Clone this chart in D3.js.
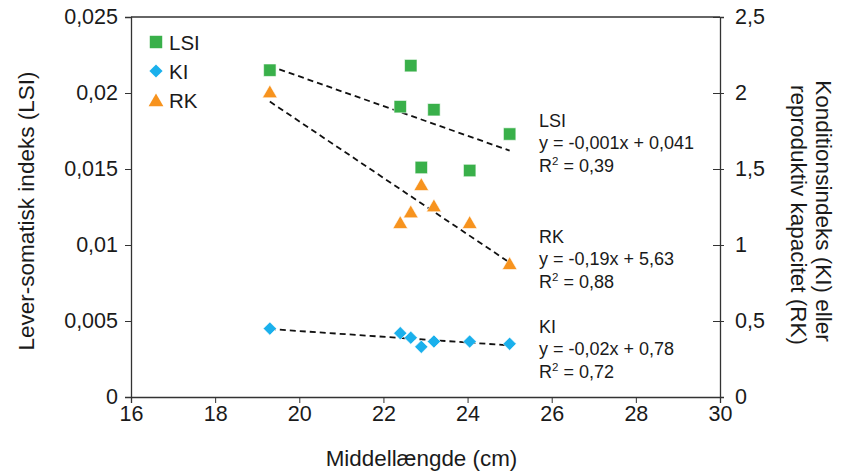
<html>
<head>
<meta charset="utf-8">
<script src="https://d3js.org/d3.v7.min.js"></script>
</head>
<body style="margin:0">
<svg id="chart" width="844" height="473"></svg>
<style>
  text { font-family: "Liberation Sans", Arial, sans-serif; fill: #1a1a1a; }
</style>
<script>
// middellængde (cm) per prøve
const lengths = [19.3, 22.4, 22.65, 22.9, 23.2, 24.05, 25.0];
const lsi = [0.0215, 0.0191, 0.0218, 0.0151, 0.0189, 0.0149, 0.0173];
const ki  = [0.45, 0.42, 0.39, 0.33, 0.365, 0.365, 0.35];
const rk  = [2.01, 1.15, 1.22, 1.40, 1.26, 1.15, 0.88];

const xTicks = [16, 18, 20, 22, 24, 26, 28, 30];
const leftTicks = [0, 0.005, 0.01, 0.015, 0.02, 0.025];
const rightTicks = [0, 0.5, 1, 1.5, 2, 2.5];

const seriesNames = ['LSI', 'KI', 'RK'];
const equations = [
  ['LSI', 'y = -0,001x + 0,041', '0,39'],
  ['RK', 'y = -0,19x + 5,63', '0,88'],
  ['KI', 'y = -0,02x + 0,78', '0,72']
];

const svg = d3.select('#chart');
const margin = {top: 17, right: 124, bottom: 76, left: 131};
const W = 844, H = 473;

const x = d3.scaleLinear().domain([16, 30]).range([margin.left, W - margin.right]);
const yL = d3.scaleLinear().domain([0, 0.025]).range([H - margin.bottom, margin.top]);
const yR = d3.scaleLinear().domain([0, 2.5]).range([H - margin.bottom, margin.top]);

const comma = d => String(d).replace('.', ',');

// frame
svg.append('line').attr('x1', x(16)).attr('x2', x(30)).attr('y1', yL(0.025)).attr('y2', yL(0.025))
   .attr('stroke', '#333').attr('stroke-width', 1.3);

const gx = svg.append('g').attr('transform', `translate(0,${yL(0)})`)
  .call(d3.axisBottom(x).tickValues(xTicks).tickSize(6).tickPadding(3).tickFormat(comma));
const gl = svg.append('g').attr('transform', `translate(${x(16)},0)`)
  .call(d3.axisLeft(yL).tickValues(leftTicks).tickSize(6).tickPadding(7).tickFormat(comma));
const gr = svg.append('g').attr('transform', `translate(${x(30)},0)`)
  .call(d3.axisRight(yR).tickValues(rightTicks).tickSize(4).tickPadding(11).tickFormat(comma));
gr.selectAll('.tick').append('line').attr('x2', -7).attr('stroke', '#333');

[gx, gl, gr].forEach(g => {
  g.selectAll('path.domain').attr('stroke', '#333').attr('stroke-width', 1.3);
  g.selectAll('.tick line').attr('stroke', '#333');
  g.selectAll('.tick text').attr('font-size', 21.5).attr('fill', '#1a1a1a');
});

// titles
const midY = (yL(0) + yL(0.025)) / 2;
svg.append('text').attr('x', (x(16) + x(30)) / 2 - 4).attr('y', 466).attr('text-anchor', 'middle')
   .attr('font-size', 22.4).text('Middellængde (cm)');
svg.append('text').attr('transform', `translate(34,${midY + 4}) rotate(-90)`)
   .attr('text-anchor', 'middle').attr('font-size', 22.5).text('Lever-somatisk indeks (LSI)');
svg.append('text').attr('transform', `translate(816,${midY + 4}) rotate(90)`)
   .attr('text-anchor', 'middle').attr('font-size', 22.5).text('Konditionsindeks (KI) eller');
svg.append('text').attr('transform', `translate(791,${midY + 8}) rotate(90)`)
   .attr('text-anchor', 'middle').attr('font-size', 22.5).text('reproduktiv kapacitet (RK)');

// least squares trend lines
function fit(xs, ys) {
  const mx = d3.mean(xs), my = d3.mean(ys);
  const b = d3.sum(xs, (v, i) => (v - mx) * (ys[i] - my)) / d3.sum(xs, v => (v - mx) * (v - mx));
  return {b, a: my - b * mx};
}
const x0 = d3.min(lengths), x1 = d3.max(lengths);
[[lsi, yL], [rk, yR], [ki, yR]].forEach(([vals, sc]) => {
  const f = fit(lengths, vals);
  svg.append('line')
     .attr('x1', x(x0)).attr('y1', sc(f.a + f.b * x0))
     .attr('x2', x(x1)).attr('y2', sc(f.a + f.b * x1))
     .attr('stroke', '#111').attr('stroke-width', 1.8).attr('stroke-dasharray', '6,4');
});

const colors = {LSI: '#39b04a', KI: '#1ab0ec', RK: '#f7931e'};
const diamond = 'M0,-6.6L6.6,0L0,6.6L-6.6,0Z';
const sym = {
  LSI: d3.symbol().type(d3.symbolSquare).size(155)(),
  KI: diamond,
  RK: d3.symbol().type(d3.symbolTriangle).size(95)()
};

svg.selectAll('path.lsi').data(lengths).join('path').attr('class', 'lsi')
   .attr('transform', (d, i) => `translate(${x(d)},${yL(lsi[i])})`)
   .attr('d', sym.LSI).attr('fill', colors.LSI).attr('stroke', '#fff').attr('stroke-width', 0.6);
svg.selectAll('path.rk').data(lengths).join('path').attr('class', 'rk')
   .attr('transform', (d, i) => `translate(${x(d)},${yR(rk[i]) + 2})`)
   .attr('d', sym.RK).attr('fill', colors.RK).attr('stroke', '#fff').attr('stroke-width', 0.6);
svg.selectAll('path.ki').data(lengths).join('path').attr('class', 'ki')
   .attr('transform', (d, i) => `translate(${x(d)},${yR(ki[i])})`)
   .attr('d', sym.KI).attr('fill', colors.KI).attr('stroke', '#fff').attr('stroke-width', 0.6);

// legend
const lg = svg.append('g').attr('transform', 'translate(156,42)');
seriesNames.forEach((n, i) => {
  lg.append('path').attr('transform', `translate(0,${i * 29 + (n === 'RK' ? 2 : 0)})`)
    .attr('d', sym[n]).attr('fill', colors[n]);
  lg.append('text').attr('x', 13).attr('y', i * 29 + 7.5).attr('font-size', 20.5).text(n);
});

// equations
const eqY = [127, 243, 333];
equations.forEach((e, i) => {
  const g = svg.append('g').attr('transform', `translate(539,${eqY[i]})`);
  g.append('text').attr('font-size', 18).text(e[0]);
  g.append('text').attr('y', 22).attr('font-size', 18).text(e[1]);
  const t = g.append('text').attr('y', 45).attr('font-size', 18);
  t.append('tspan').text('R');
  t.append('tspan').attr('font-size', 11.5).attr('dy', -7).text('2');
  t.append('tspan').attr('dy', 7).text(' = ' + e[2]);
});
</script>
</body>
</html>
